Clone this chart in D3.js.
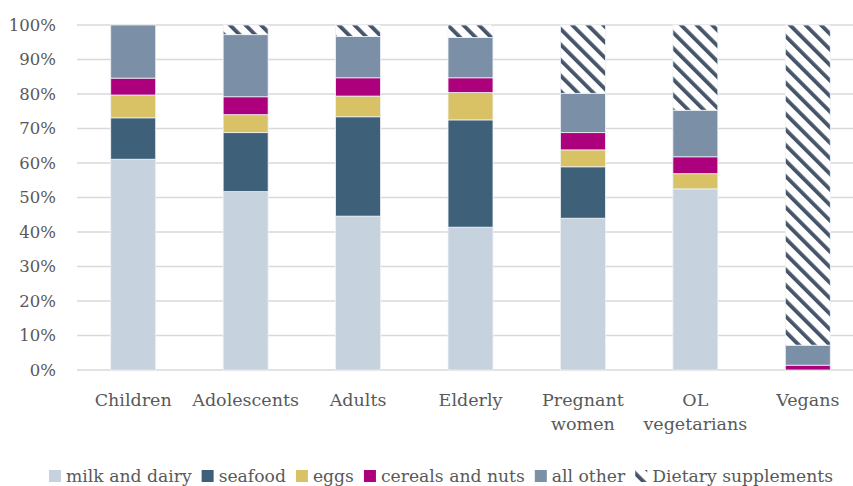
<!DOCTYPE html>
<html lang="en">
  <head>
    <meta charset="UTF-8" />
    <title>Dietary sources</title>
    <script src="https://d3js.org/d3.v7.min.js"></script>
    <style>
      body { margin: 0; background: #fff; }
      svg { display: block; overflow: hidden; }
      text { font-family: 'DejaVu Serif', 'Liberation Serif', serif; fill: #595959; }
    </style>
  </head>
  <body>
    <svg width="853" height="486"></svg>
    <script>
      var groups = ['Children', 'Adolescents', 'Adults', 'Elderly', 'Pregnant women', 'OL vegetarians', 'Vegans']
      var groupLines = [['Children'], ['Adolescents'], ['Adults'], ['Elderly'], ['Pregnant', 'women'], ['OL', 'vegetarians'], ['Vegans']]
      var seriesNames = ['milk and dairy', 'seafood', 'eggs', 'cereals and nuts', 'all other', 'Dietary supplements']

      // shares in %
      var milkDairy   = [61.1, 51.7, 44.6, 41.4, 44.0, 52.5, 0]
      var seafood     = [12.0, 17.1, 28.8, 31.1, 14.9, 0, 0]
      var eggs        = [6.6, 5.2, 6.0, 7.9, 4.9, 4.4, 0]
      var cerealsNuts = [4.9, 5.2, 5.3, 4.3, 5.0, 4.9, 1.4]
      var allOther    = [15.4, 18.0, 12.0, 11.7, 11.4, 13.5, 5.8]
      var supplements = [0, 2.8, 3.3, 3.6, 19.8, 24.7, 92.8]

      var yTicks = [0, 10, 20, 30, 40, 50, 60, 70, 80, 90, 100]

      var colors = ['#c6d3df', '#3e6079', '#d9c266', '#ad007c', '#7b90a7', 'url(#diag)']

      var rows = groups.map(function(g, i) {
        return {
          group: g,
          'milk and dairy': milkDairy[i],
          'seafood': seafood[i],
          'eggs': eggs[i],
          'cereals and nuts': cerealsNuts[i],
          'all other': allOther[i],
          'Dietary supplements': supplements[i]
        }
      })

      var svg = d3.select('svg')
      var plot = { left: 77, right: 864, top: 25, bottom: 370 }

      // wide downward diagonal pattern
      var defs = svg.append('defs')
      var pat = defs.append('pattern')
        .attr('id', 'diag')
        .attr('patternUnits', 'userSpaceOnUse')
        .attr('width', 11)
        .attr('height', 11)
        .attr('patternTransform', 'rotate(-45)')
      pat.append('rect').attr('width', 11).attr('height', 11).attr('fill', '#fff')
      pat.append('rect').attr('x', 0).attr('width', 3.8).attr('height', 11).attr('fill', '#44546a')

      var x = d3.scaleBand()
        .domain(groups)
        .range([plot.left, plot.right])
        .paddingInner(0.6)
        .paddingOuter(0.3)

      var y = d3.scaleLinear().domain([0, 100]).range([plot.bottom, plot.top])

      // gridlines
      svg.append('g')
        .selectAll('line')
        .data(yTicks)
        .enter()
        .append('line')
        .attr('x1', plot.left)
        .attr('x2', plot.right)
        .attr('y1', function(d) { return y(d) })
        .attr('y2', function(d) { return y(d) })
        .attr('stroke', '#d9d9d9')
        .attr('stroke-width', 1.3)

      // y labels
      svg.append('g')
        .selectAll('text')
        .data(yTicks)
        .enter()
        .append('text')
        .attr('x', 56)
        .attr('y', function(d) { return y(d) })
        .attr('dy', '0.36em')
        .attr('text-anchor', 'end')
        .style('font-size', '16.5px')
        .text(function(d) { return d + '%' })

      var stack = d3.stack().keys(seriesNames)
      var layers = stack(rows)

      svg.append('g')
        .selectAll('g')
        .data(layers)
        .enter()
        .append('g')
        .attr('fill', function(d, i) { return colors[i] })
        .selectAll('rect')
        .data(function(d) { return d })
        .enter()
        .append('rect')
        .attr('x', function(d) { return x(d.data.group) })
        .attr('width', x.bandwidth())
        .attr('y', function(d) { return y(d[1]) })
        .attr('height', function(d) { return y(d[0]) - y(d[1]) })
        .attr('stroke', '#eef2f6')
        .attr('stroke-width', function(d) { return d[1] - d[0] > 0 ? 0.8 : 0 })

      // x labels
      svg.append('g')
        .selectAll('text')
        .data(groups)
        .enter()
        .append('text')
        .attr('x', function(d) { return x(d) + x.bandwidth() / 2 })
        .attr('y', 406)
        .attr('text-anchor', 'middle')
        .style('font-size', '17.5px')
        .each(function(d, i) {
          var t = d3.select(this)
          groupLines[i].forEach(function(line, j) {
            t.append('tspan')
              .attr('x', x(d) + x.bandwidth() / 2)
              .attr('dy', j === 0 ? 0 : 24)
              .text(line)
          })
        })

      // legend
      var legend = svg.append('g').attr('transform', 'translate(0,476)')
      var lx = 49
      seriesNames.forEach(function(name, i) {
        var item = legend.append('g').attr('transform', 'translate(' + lx + ',0)')
        item.append('rect')
          .attr('x', 0)
          .attr('y', -6)
          .attr('width', 12)
          .attr('height', 12)
          .attr('fill', colors[i])
        var t = item.append('text')
          .attr('x', 17)
          .attr('y', 0)
          .attr('dy', '0.36em')
          .style('font-size', '17.2px')
          .text(name)
        lx += 17 + t.node().getComputedTextLength() + 10
      })
    </script>
  </body>
</html>
